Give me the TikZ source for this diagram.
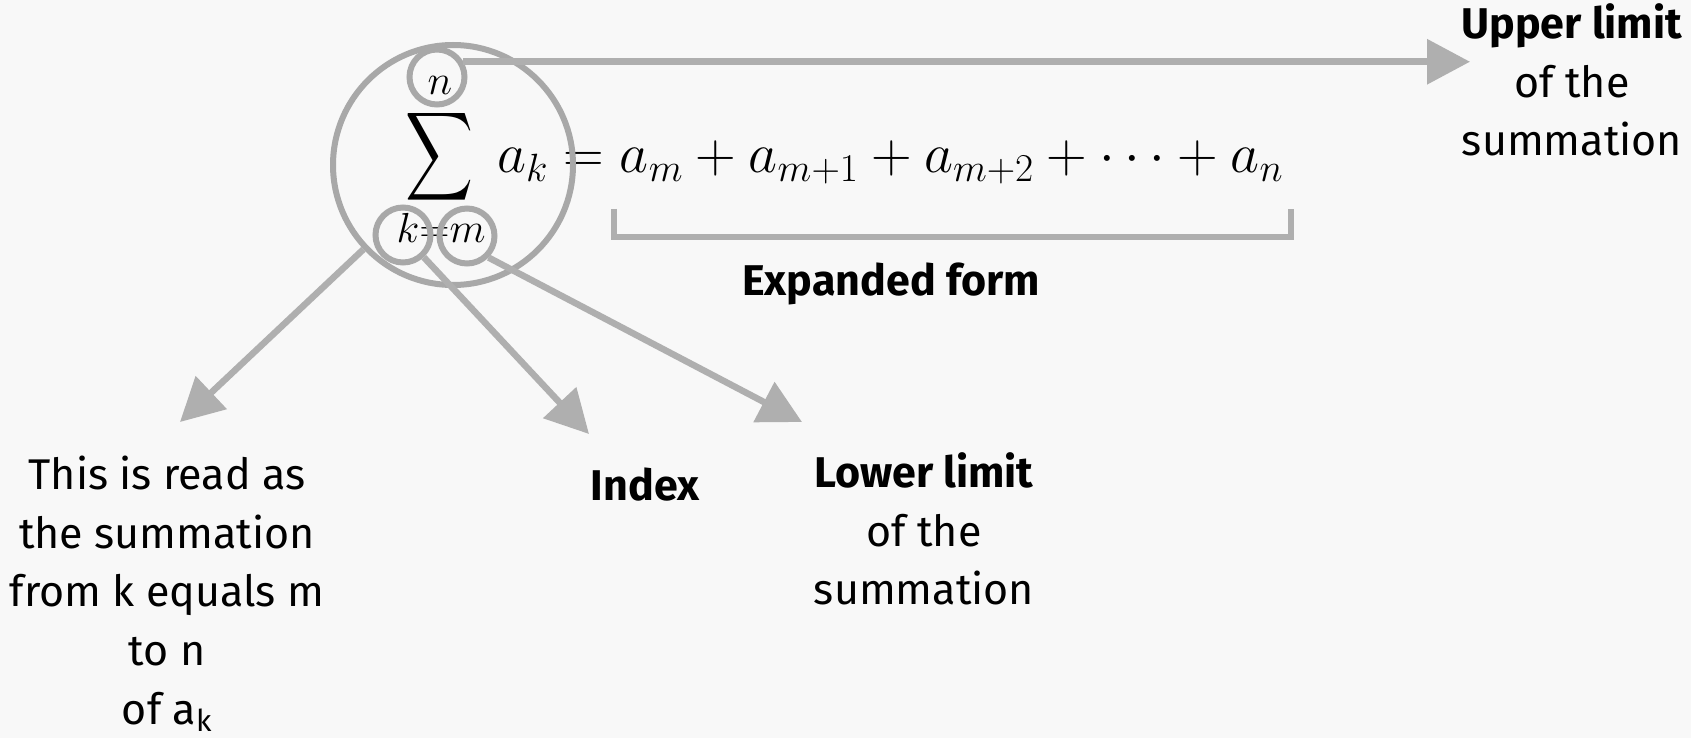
\RequirePackage{fix-cm}
\documentclass[tikz,border=0pt]{standalone}
\usepackage{graphicx}
\usepackage[no-math]{fontspec}
\setmainfont{Fira Sans}
\usetikzlibrary{arrows.meta, positioning, calc}
\definecolor{bgcol}{HTML}{F8F8F8}
\definecolor{linecol}{HTML}{AFAFAF}
\definecolor{ringcol}{HTML}{A8A8A8}

\begin{document}
\begin{tikzpicture}[x=1pt, y=-1pt,
    ring/.style={draw=ringcol, line width=6pt, circle, inner sep=0pt},
    pointer/.style={draw=linecol, line width=6.5pt, -{Triangle[length=43pt, width=44pt]}},
    bracket/.style={draw=linecol, line width=6.5pt},
    mathtxt/.style={inner sep=0pt},
    limtxt/.style={inner sep=0pt, anchor=base, font=\fontsize{42}{42}\selectfont},
    note/.style={align=center, inner sep=0pt, font=\fontsize{43}{58.6}\selectfont}
]

% Background
\fill[bgcol] (0,0) rectangle (1691,738);

% Sigma with its limits
\node[mathtxt] (sig) at (440,157) {\resizebox*{68pt}{99pt}{$\displaystyle\sum$}};
\node[limtxt] (up) at (440,95) {$n$};
\node[limtxt] (low) at (441,242) {$k{=}m$};

% Right hand side
\node[mathtxt, anchor=base west] (eq) at (497,173)
    {\resizebox{786pt}{!}{\fontsize{54}{54}\selectfont$a_k = a_m + a_{m+1} + a_{m+2} + \cdots + a_n$}};

% Rings
\node[ring, minimum size=240pt] (big) at (453,165) {};
\node[ring, minimum size=55pt] (nc) at (437,77) {};
\node[ring, minimum size=55pt] (kc) at (403,235) {};
\node[ring, minimum size=55pt] (mc) at (467,236) {};

% Bracket under the expanded form
\coordinate (brl) at (614,209);
\coordinate (brr) at (1291,209);
\draw[bracket] (brl) -- ++(0,28) -| (brr);

% Labels
\node[note] (exp) at (891,284) {\bfseries Expanded form};
\node[note] (hi) at (1572,80) {\textbf{Upper limit}\\of the\\summation};
\node[note] (rd) at (167,594) {This is read as\\the summation\\from k equals m\\to n\\of a\textsubscript{k}};
\node[note] (idx) at (645,485) {\bfseries Index};
\node[note] (lo) at (924,529) {\textbf{Lower limit}\\of the\\summation};

% Arrow ends
\coordinate (readtip) at (180,422);
\coordinate (idxtip) at (589,434);
\coordinate (lotip) at (802,422);
\coordinate (uptip) at (1470,63);

% Arrows
\draw[pointer] (big) -- (readtip);
\draw[pointer] (kc) -- (idxtip);
\draw[pointer] (mc.-45) -- (lotip);
\draw[pointer] (nc.30) -- (nc.30 -| uptip);

\end{tikzpicture}
\end{document}
